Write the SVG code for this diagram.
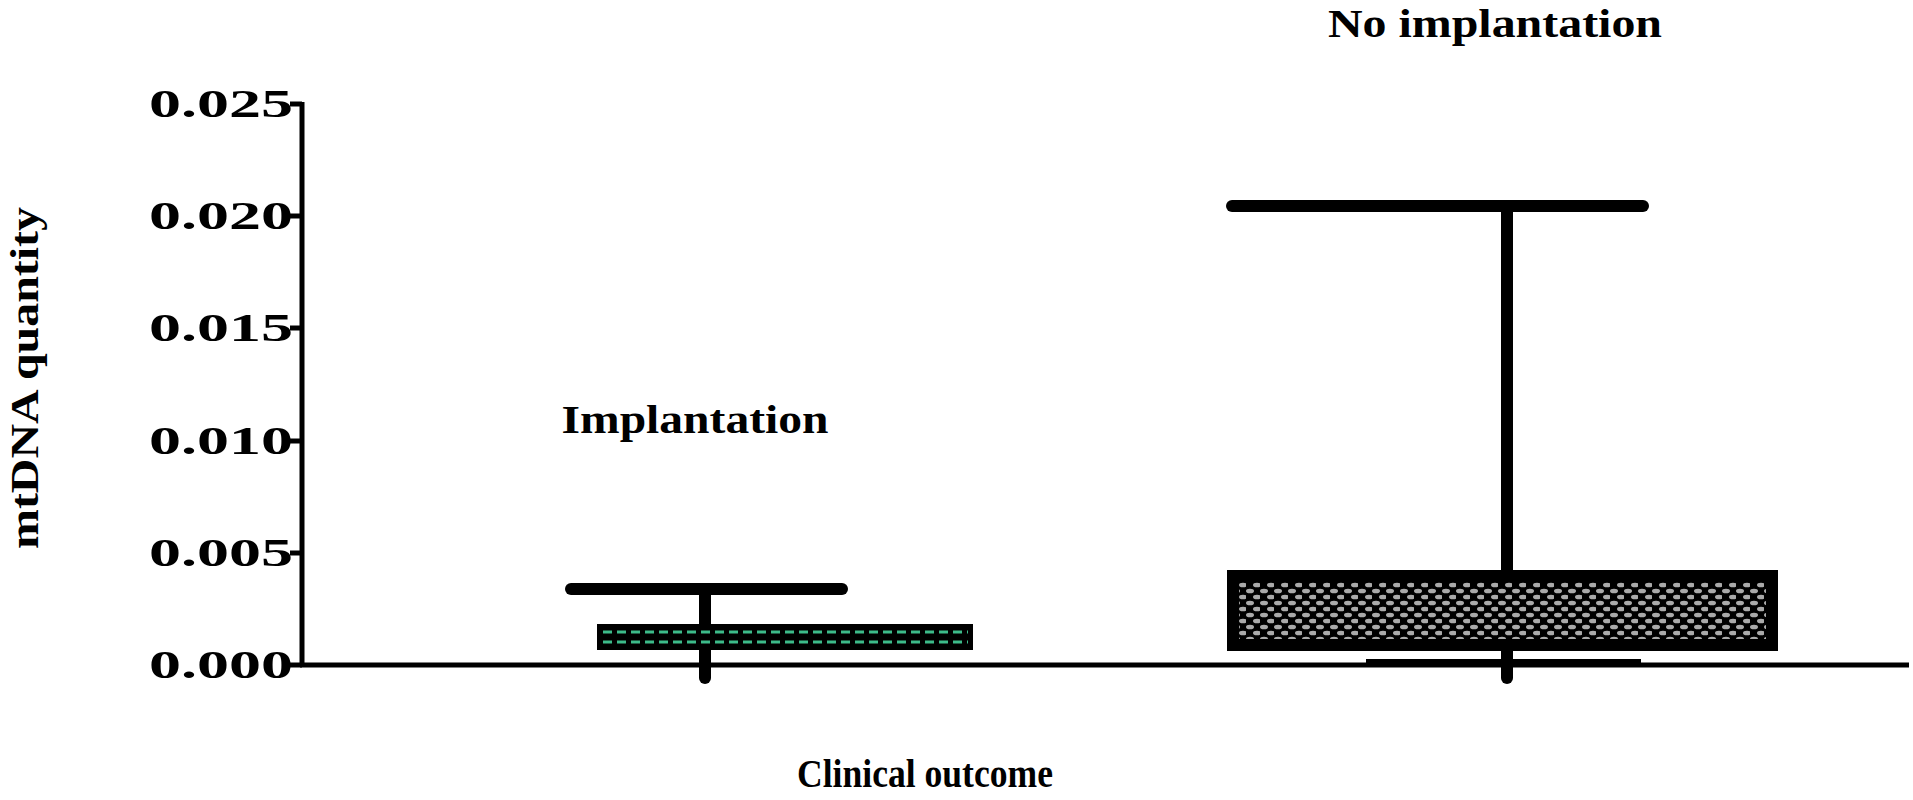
<svg xmlns="http://www.w3.org/2000/svg" width="1913" height="800" viewBox="0 0 1913 800">
<style>
text{font-family:"Liberation Serif",serif;font-weight:bold;fill:#000}
.t{font-size:39px;text-anchor:end}
.l{font-size:39px;text-anchor:middle}
.k{stroke:#000;stroke-width:5;fill:none}
.w{stroke:#000;stroke-width:12;fill:none;stroke-linecap:round}
</style>
<defs>
<pattern id="dots" width="14" height="12" patternUnits="userSpaceOnUse">
<rect width="14" height="12" fill="#000"/>
<ellipse cx="4" cy="3" rx="4" ry="2.3" fill="#aaa"/>
<ellipse cx="11" cy="9" rx="4" ry="2.3" fill="#aaa"/>
</pattern>
</defs>
<rect width="1913" height="800" fill="#fff"/>
<g id="axes">
<line class="k" x1="302" y1="102" x2="302" y2="667"/>
<line class="k" x1="300" y1="665" x2="1909" y2="665"/>
<g class="k"><line x1="290" y1="104" x2="302" y2="104"/><line x1="290" y1="216" x2="302" y2="216"/><line x1="290" y1="328" x2="302" y2="328"/><line x1="290" y1="441" x2="302" y2="441"/><line x1="290" y1="553" x2="302" y2="553"/><line x1="290" y1="665" x2="302" y2="665"/></g>
<g textLength="144" lengthAdjust="spacingAndGlyphs">
<text class="t" x="293" y="117" textLength="144" lengthAdjust="spacingAndGlyphs">0.025</text>
<text class="t" x="293" y="229" textLength="144" lengthAdjust="spacingAndGlyphs">0.020</text>
<text class="t" x="293" y="341" textLength="144" lengthAdjust="spacingAndGlyphs">0.015</text>
<text class="t" x="293" y="454" textLength="144" lengthAdjust="spacingAndGlyphs">0.010</text>
<text class="t" x="293" y="566" textLength="144" lengthAdjust="spacingAndGlyphs">0.005</text>
<text class="t" x="293" y="678" textLength="144" lengthAdjust="spacingAndGlyphs">0.000</text>
</g>
<text class="l" transform="translate(38,378) rotate(-90)" textLength="342" lengthAdjust="spacingAndGlyphs">mtDNA quantity</text>
<text class="l" x="925" y="787" textLength="256" lengthAdjust="spacingAndGlyphs">Clinical outcome</text>
</g>
<g id="implantation">
<line class="w" x1="705" y1="589" x2="705" y2="678"/>
<line class="w" x1="571" y1="589" x2="842" y2="589"/>
<rect x="597" y="624" width="376" height="26" fill="#000"/>
<line x1="603" y1="632" x2="968" y2="632" stroke="#3dbb8a" stroke-width="3" stroke-dasharray="9,5"/>
<line x1="603" y1="642" x2="968" y2="642" stroke="#3dbb8a" stroke-width="3" stroke-dasharray="9,5"/>
<text class="l" x="695" y="433" textLength="267" lengthAdjust="spacingAndGlyphs">Implantation</text>
</g>
<g id="no-implantation">
<line class="w" x1="1507" y1="206" x2="1507" y2="678"/>
<line class="w" x1="1232" y1="206" x2="1643" y2="206"/>
<line x1="1366" y1="661" x2="1641" y2="661" stroke="#000" stroke-width="4"/>
<rect x="1233" y="576" width="539" height="69" fill="url(#dots)" stroke="#000" stroke-width="4"/>
<rect x="1233" y="576" width="539" height="69" fill="none" stroke="#000" stroke-width="12"/>
<text class="l" x="1495" y="37" textLength="334" lengthAdjust="spacingAndGlyphs">No implantation</text>
</g>
</svg>
